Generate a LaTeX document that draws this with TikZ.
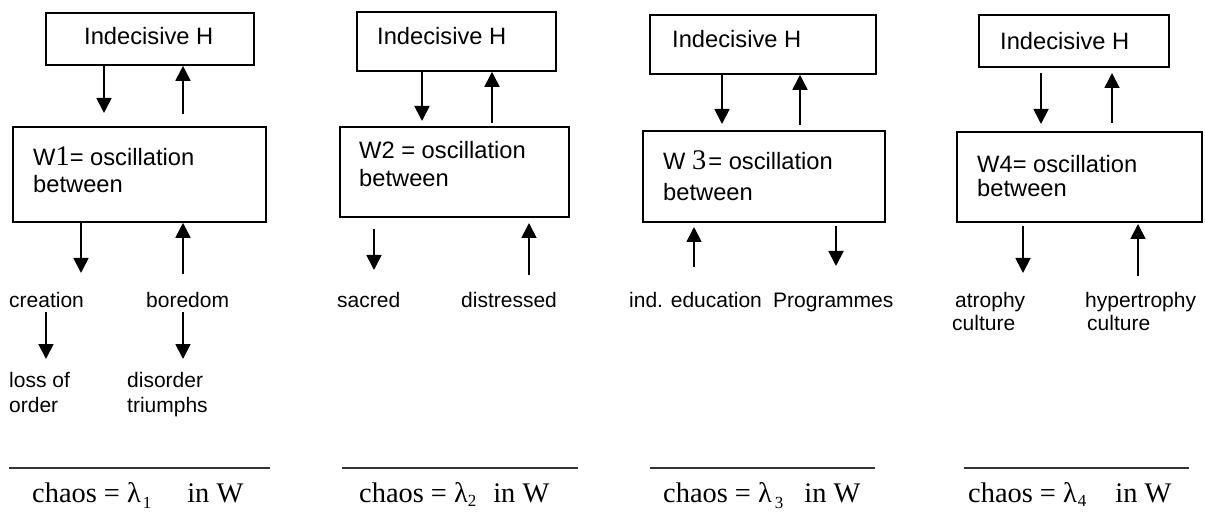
\documentclass[tikz,border=0pt]{standalone}
\usepackage{fontspec}
\setmainfont{Liberation Sans}
\newfontfamily\tms{Liberation Serif}
\usetikzlibrary{arrows.meta}
\begin{document}
\begin{tikzpicture}[x=1pt,y=-1pt,
  box/.style={draw, line width=1.8pt, anchor=north west, inner sep=0pt},
  arr/.style={line width=1.8pt, -{Triangle[width=15pt,length=15pt]}},
  lbl/.style={anchor=base west, inner sep=0pt, font=\fontsize{23.7}{27}\selectfont},
  sml/.style={anchor=base west, inner sep=0pt, font=\fontsize{21}{24}\selectfont},
  chs/.style={anchor=base west, inner sep=0pt, font=\tms\fontsize{28.4}{32}\selectfont},
  uline/.style={line width=1.3pt, black!80}]
\useasboundingbox (0,0) rectangle (1205,513);

% ---------- Panel 1 ----------
\node[box, minimum width=208pt, minimum height=52pt] (H1) at (45,12) {};
\node[lbl] (H1t) at (84,45) {Indecisive H};
\node[box, minimum width=253pt, minimum height=95pt] (W1) at (12,126) {};
\node[lbl] (W1a) at (33,166) {W{\tms\fontsize{28.4}{30}\selectfont 1}= oscillation};
\node[lbl] (W1b) at (33,193) {between};
\coordinate (d1) at (104,113);
\coordinate (u1) at (183,114);
\draw[arr] (H1.south -| d1) -- (d1);
\draw[arr] (u1) -- (H1.south -| u1);
\coordinate (c1) at (81,273);
\coordinate (b1) at (183,274);
\draw[arr] (W1.south -| c1) -- (c1);
\draw[arr] (b1) -- (W1.south -| b1);
\node[sml] (cre) at (9,307) {creation};
\node[sml] (bor) at (146,307) {boredom};
\coordinate (l1a) at (46,312); \coordinate (l1b) at (46,359);
\coordinate (t1a) at (183,312); \coordinate (t1b) at (183,359);
\draw[arr] (l1a) -- (l1b);
\draw[arr] (t1a) -- (t1b);
\node[sml] (loss) at (9,387) {loss of};
\node[sml] (ord) at (9,412) {order};
\node[sml] (dis) at (127,387) {disorder};
\node[sml] (tri) at (127,412) {triumphs};
\draw[uline] (9,468) -- (270,468);
\node[chs] (ch1) at (32,502) {chaos = λ\hspace{2pt}\raisebox{-6pt}{\fontsize{17}{17}\selectfont 1}\hspace{36pt}in W};

% ---------- Panel 2 ----------
\node[box, minimum width=199pt, minimum height=59pt] (H2) at (356,11) {};
\node[lbl] (H2t) at (377,45) {Indecisive H};
\node[box, minimum width=229pt, minimum height=90pt] (W2) at (339,126) {};
\node[lbl] (W2a) at (359,159) {W2 = oscillation};
\node[lbl] (W2b) at (359,187) {between};
\coordinate (d2) at (422,121);
\coordinate (u2) at (492,123);
\draw[arr] (H2.south -| d2) -- (d2);
\draw[arr] (u2) -- (H2.south -| u2);
\coordinate (s2a) at (374,229); \coordinate (s2b) at (374,270);
\coordinate (e2a) at (529,275); \coordinate (e2b) at (529,223);
\draw[arr] (s2a) -- (s2b);
\draw[arr] (e2a) -- (e2b);
\node[sml] (sac) at (337,307) {sacred};
\node[sml] (dst) at (461,307) {distressed};
\draw[uline] (342,468) -- (578,468);
\node[chs] (ch2) at (359,502) {chaos = λ\raisebox{-4pt}{\fontsize{17}{17}\selectfont 2}\hspace{17pt}in W};

% ---------- Panel 3 ----------
\node[box, minimum width=226pt, minimum height=59pt] (H3) at (649,14) {};
\node[lbl] (H3t) at (672,48) {Indecisive H};
\node[box, minimum width=242pt, minimum height=91pt] (W3) at (642,130) {};
\node[lbl] (W3a) at (663,170) {W {\tms\fontsize{28.4}{30}\selectfont 3}\hspace{2pt}= oscillation};
\node[lbl] (W3b) at (663,201) {between};
\coordinate (d3) at (722,124);
\coordinate (u3) at (800,125);
\draw[arr] (H3.south -| d3) -- (d3);
\draw[arr] (u3) -- (H3.south -| u3);
\coordinate (i3a) at (694,267); \coordinate (i3b) at (694,227);
\coordinate (p3a) at (836,226); \coordinate (p3b) at (836,266);
\draw[arr] (i3a) -- (i3b);
\draw[arr] (p3a) -- (p3b);
\node[sml] (ind) at (629,307) {ind. education};
\node[sml] (prg) at (773,307) {Programmes};
\draw[uline] (650,468) -- (875,468);
\node[chs] (ch3) at (663,502) {chaos = λ\hspace{3pt}\raisebox{-6pt}{\fontsize{17}{17}\selectfont 3}\hspace{21pt}in W};

% ---------- Panel 4 ----------
\node[box, minimum width=190pt, minimum height=52pt] (H4) at (978,14) {};
\node[lbl] (H4t) at (1000,50) {Indecisive H};
\node[box, minimum width=245pt, minimum height=90pt] (W4) at (956,131) {};
\node[lbl] (W4a) at (977,173) {W4= oscillation};
\node[lbl] (W4b) at (977,197) {between};
\coordinate (d4a) at (1041,73); \coordinate (d4b) at (1041,124);
\coordinate (u4a) at (1112,123); \coordinate (u4b) at (1112,73);
\draw[arr] (d4a) -- (d4b);
\draw[arr] (u4a) -- (u4b);
\coordinate (a4a) at (1023,226); \coordinate (a4b) at (1023,273);
\coordinate (h4a) at (1138,276); \coordinate (h4b) at (1138,224);
\draw[arr] (a4a) -- (a4b);
\draw[arr] (h4a) -- (h4b);
\node[sml] (atr) at (955,307) {atrophy};
\node[sml] (cu1) at (952,330) {culture};
\node[sml] (hyp) at (1085,307) {hypertrophy};
\node[sml] (cu2) at (1087,330) {culture};
\draw[uline] (964,468) -- (1189,468);
\node[chs] (ch4) at (968,502) {chaos = λ\hspace{1pt}\raisebox{-4pt}{\fontsize{17}{17}\selectfont 4}\hspace{29pt}in W};
\end{tikzpicture}
\end{document}
